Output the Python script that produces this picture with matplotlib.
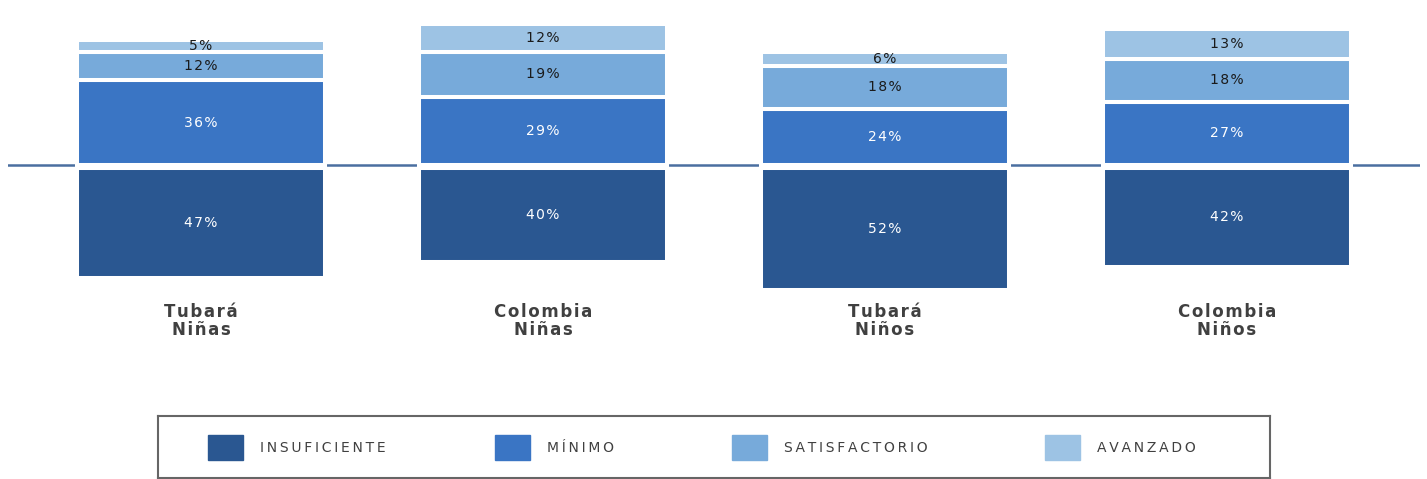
import matplotlib.pyplot as plt
from matplotlib.patches import Rectangle

groups = ["Tubará\nNiñas", "Colombia\nNiñas", "Tubará\nNiños", "Colombia\nNiños"]
levels = ["INSUFICIENTE", "MÍNIMO", "SATISFACTORIO", "AVANZADO"]
insuficiente = [47, 40, 52, 42]
minimo = [36, 29, 24, 27]
satisfactorio = [12, 19, 18, 18]
avanzado = [5, 12, 6, 13]

colors = ["#2a5791", "#3a75c4", "#77aada", "#9dc3e4"]
text_colors = ["white", "white", "#1a1a1a", "#1a1a1a"]


def spaced(s, sp="\u200a"):
    # spread the letters a little, like the original
    return "\n".join(sp.join(line) for line in s.split("\n"))


W, H = 1427, 479
fig = plt.figure(figsize=(W / 100, H / 100), dpi=100)
ax = fig.add_axes([8 / W, 1 - 290 / H, (1420 - 8) / W, 290 / H])

x = list(range(len(groups)))
width = 0.725
gap = 1.3  # small offset below the baseline

ax.axhline(0, color="#4a6fa0", lw=1.8, zorder=0)

# below the line
bars = ax.bar(x, [-v for v in insuficiente], width, bottom=-gap,
              color=colors[0], edgecolor="white", linewidth=2.9, zorder=2)
for b, v in zip(bars, insuficiente):
    ax.text(b.get_x() + b.get_width() / 2, -gap - v / 2, spaced(f"{v}%"),
            ha="center", va="center", color=text_colors[0], fontsize=10)

# above the line
bottom = [0] * len(groups)
for i, vals in enumerate([minimo, satisfactorio, avanzado], start=1):
    bars = ax.bar(x, vals, width, bottom=bottom, color=colors[i],
                  edgecolor="white", linewidth=2.9, zorder=2)
    for b, v, b0 in zip(bars, vals, bottom):
        ax.text(b.get_x() + b.get_width() / 2, b0 + v / 2, spaced(f"{v}%"),
                ha="center", va="center", color=text_colors[i], fontsize=10)
    bottom = [b0 + v for b0, v in zip(bottom, vals)]

ax.set_xlim(-0.564, 3.564)
ax.set_ylim(-53.2, 70.2)
ax.axis("off")

for xi, g in zip(x, groups):
    fig.text((8 + (xi + 0.564) * 342) / W, 1 - 321 / H, spaced(g), ha="center", va="center",
             fontsize=12, fontweight="semibold", color="#404040", linespacing=1.05)

# legend box
leg = fig.add_axes([158 / W, 1 - 478 / H, (1270 - 158) / W, 62 / H])
leg.set_xlim(158, 1270)
leg.set_ylim(478, 416)
leg.set_xticks([])
leg.set_yticks([])
for s in leg.spines.values():
    s.set_color("#666666")
    s.set_linewidth(1.5)
for px, lab, c in zip([208, 495, 732, 1045], levels, colors):
    leg.add_patch(Rectangle((px, 435), 35, 25, color=c))
    leg.text(px + 52, 447.5, spaced(lab, "\u2009"), ha="left", va="center",
             fontsize=10, color="#404040")

fig.savefig("out.png", dpi=100)
